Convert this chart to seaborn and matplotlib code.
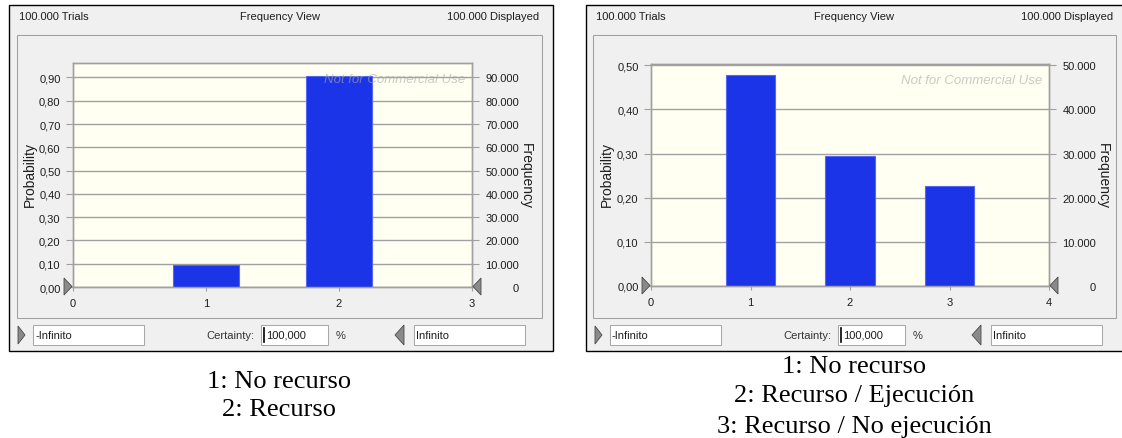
import numpy as np
import matplotlib
matplotlib.use("Agg")
import matplotlib.pyplot as plt
from matplotlib.patches import Rectangle, Polygon
import seaborn as sns

left_cats = [1, 2]
left_prob = [0.093, 0.907]
left_legend = ["1: No recurso", "2: Recurso"]

right_cats = [1, 2, 3]
right_prob = [0.478, 0.295, 0.227]
right_legend = ["1: No recurso", "2: Recurso / Ejecución", "3: Recurso / No ejecución"]

trials = 100000

plt.rcParams['font.family'] = ['Liberation Sans', 'DejaVu Sans']

W, H = 1122, 439
BLUE = '#1c34e8'
GRAY = '#a0a0a0'
TXT = '#1e1e1e'

fig = plt.figure(figsize=(W / 100, H / 100), dpi=100)
fig.patch.set_facecolor('white')


def box(x0, y0, x1, y1, fc, ec, lw=0.75, z=-2):
    fig.add_artist(Rectangle((x0 / W, 1 - y1 / H), (x1 - x0) / W, (y1 - y0) / H,
                             transform=fig.transFigure, fc=fc, ec=ec, lw=lw, zorder=z))


def tri(xb, xt, y0, y1, z=5):
    pts = [(xb / W, 1 - y0 / H), (xb / W, 1 - y1 / H), (xt / W, 1 - (y0 + y1) / 2 / H)]
    fig.add_artist(Polygon(pts, closed=True, transform=fig.transFigure,
                           fc='#8a8a8a', ec='#4a4a4a', lw=0.6, zorder=z))


def txt(x, y, s, **kw):
    kw.setdefault('fontsize', 8)
    kw.setdefault('color', TXT)
    kw.setdefault('va', 'center')
    fig.text(x / W, 1 - y / H, s, **kw)


def panel(win, frame, plot, cats, probs, xmax, ytop, nticks, legend, legend_y, off):
    # window and inner frame
    box(win[0], win[1], win[2], win[3], '#f0f0f0', 'black', lw=1.0, z=-3)
    box(frame[0], frame[1], frame[2], frame[3], '#f0f0f0', GRAY, z=-2)

    # header
    txt(off + 19, 17, "100.000 Trials")
    txt((frame[0] + frame[2]) / 2, 17, "Frequency View", ha='center')
    txt(frame[2] - 3, 17, "100.000 Displayed", ha='right')

    x0, y0, x1, y1 = plot
    ax = fig.add_axes([x0 / W, 1 - y1 / H, (x1 - x0) / W, (y1 - y0) / H])
    ax.set_facecolor('#fffff2')
    sns.barplot(x=cats, y=probs, native_scale=True, width=0.5, color=BLUE,
                saturation=1, edgecolor='#5566f2', linewidth=0.8, ax=ax, zorder=3)
    ax.set_xlim(0, xmax)
    ax.set_ylim(0, ytop)
    ax.set_xticks(range(xmax + 1))
    ax.set_xticklabels([str(i) for i in range(xmax + 1)])
    yt = [i / 10 for i in range(nticks + 1)]
    ax.set_yticks(yt)
    ax.set_yticklabels([f"{v:.2f}".replace('.', ',') for v in yt])
    ax.set_xlabel('')
    ax.set_ylabel('')
    ax.yaxis.grid(True, color=GRAY, lw=1)
    ax.set_axisbelow(True)
    for sp in ax.spines.values():
        sp.set_color(GRAY)
        sp.set_linewidth(1)
    ax.tick_params(axis='y', length=5, color=GRAY, labelsize=8, pad=4, labelcolor=TXT)
    ax.tick_params(axis='x', length=3, color=GRAY, labelsize=8, pad=5, labelcolor=TXT)

    ax2 = ax.twinx()
    ax2.set_ylim(0, ytop * trials)
    ft = [v * trials for v in yt]
    ax2.set_yticks(ft)
    ax2.set_yticklabels([f"{v:,.0f}".replace(',', '.') for v in ft])
    ax2.tick_params(axis='y', length=5, color=GRAY, labelsize=8, pad=29, labelcolor=TXT)
    for lbl in ax2.get_yticklabels():
        lbl.set_ha('right')
    for sp in ax2.spines.values():
        sp.set_color(GRAY)
        sp.set_linewidth(1)

    ax.text(0.983, 0.93, "Not for Commercial Use", transform=ax.transAxes, ha='right',
            va='center', style='italic', fontsize=9.5, color='#a8a8a8', alpha=0.6, zorder=6)

    # axis titles
    txt(off + 30 if off == 0 else 607, 175, "Probability", rotation=90, ha='center', fontsize=10)
    txt(x1 + 54, 176, "Frequency", rotation=-90, ha='center', fontsize=10)

    # certainty grabbers
    tri(x0 - 9, x0 - 1, y1 - 9, y1 + 8)
    tri(x1 + 9, x1 + 1, y1 - 9, y1 + 8)

    # bottom controls
    cy = 336
    bx = off
    tri(bx + 18, bx + 25, cy - 9, cy + 9)
    box(bx + 33, cy - 10, bx + 144, cy + 10, 'white', '#a8a8a8', z=-1)
    txt(bx + 35, cy, "-Infinito")
    txt(bx + 206, cy, "Certainty:", color='#333333')
    box(bx + 261, cy - 10, bx + 328, cy + 10, 'white', '#a8a8a8', z=-1)
    txt(bx + 266, cy, "100,000")
    fig.add_artist(plt.Line2D([(bx + 264) / W] * 2, [1 - (cy - 7) / H, 1 - (cy + 7) / H],
                              color='black', lw=1.2, transform=fig.transFigure))
    txt(bx + 336, cy, "%", color='#333333')
    tri(bx + 404, bx + 395, cy - 10, cy + 10)
    box(bx + 414, cy - 10, bx + 525, cy + 10, 'white', '#a8a8a8', z=-1)
    txt(bx + 416, cy, "Infinito")

    # caption under the window
    cx = (frame[0] + frame[2]) / 2
    for s, y in zip(legend, legend_y):
        fig.text(cx / W, 1 - y / H, s, ha='center', va='center', fontsize=19,
                 family=['Liberation Serif', 'DejaVu Serif'], color='black')
    return ax


panel((8.5, 5.5, 553, 352), (17, 36, 542, 319), (73, 64, 472, 288),
      left_cats, left_prob, 3, 0.962, 9, left_legend, [382, 410], 0)
panel((585.5, 5.5, 1135, 352), (593, 36, 1116, 319), (651, 65, 1049, 287),
      right_cats, right_prob, 4, 0.503, 5, right_legend, [367, 396, 427], 577)

fig.savefig('out.png', dpi=100)
